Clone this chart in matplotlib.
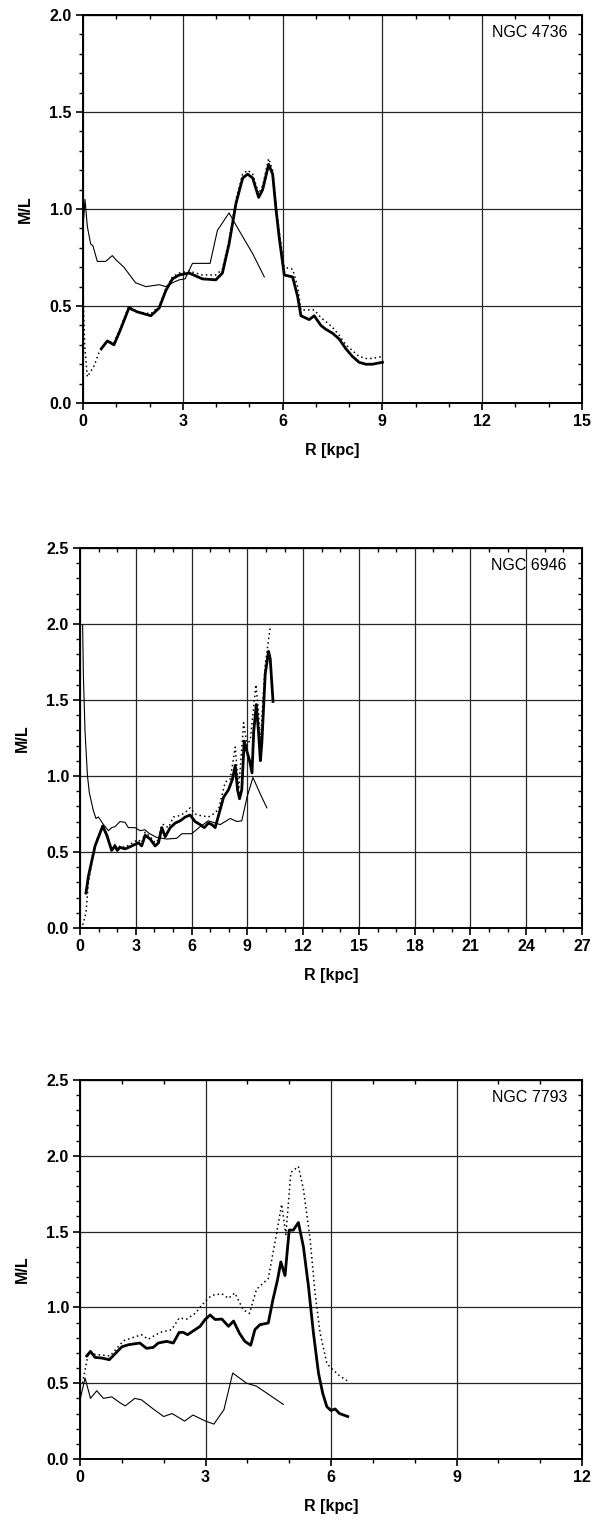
import numpy as np
import matplotlib
matplotlib.use("Agg")
import matplotlib.pyplot as plt
from matplotlib.ticker import MultipleLocator, FormatStrFormatter

plt.rcParams['font.family'] = ['Liberation Sans', 'DejaVu Sans']

# ---- NGC 4736 ----
n4736_thick_r = [0.55, 0.73, 0.93, 1.13, 1.38, 1.63, 2.04, 2.29, 2.49, 2.69, 2.89, 3.19, 3.59,
                 3.99, 4.19, 4.39, 4.6, 4.8, 4.95, 5.1, 5.28, 5.4, 5.58, 5.7, 5.8, 5.9, 6.05,
                 6.3, 6.45, 6.55, 6.8, 6.95, 7.15, 7.3, 7.5, 7.7, 7.9, 8.1, 8.3, 8.5, 8.7, 9.0]
n4736_thick_ml = [0.28, 0.32, 0.30, 0.38, 0.49, 0.47, 0.45, 0.49, 0.58, 0.64, 0.66, 0.67, 0.64,
                  0.635, 0.67, 0.82, 1.03, 1.16, 1.18, 1.16, 1.06, 1.10, 1.23, 1.18, 1.0, 0.85, 0.66,
                  0.65, 0.55, 0.45, 0.43, 0.45, 0.40, 0.38, 0.36, 0.33, 0.28, 0.24, 0.21, 0.20, 0.20, 0.21]
n4736_dot_r = [0.0, 0.05, 0.13, 0.33, 0.48, 0.73, 0.93, 1.13, 1.38, 1.63, 2.04, 2.29, 2.49, 2.69,
               2.89, 3.19, 3.59, 3.99, 4.19, 4.39, 4.6, 4.8, 4.95, 5.1, 5.28, 5.4, 5.58, 5.7, 5.8,
               5.9, 6.05, 6.3, 6.45, 6.55, 6.8, 6.95, 7.15, 7.3, 7.5, 7.7, 7.9, 8.1, 8.3, 8.5, 8.7, 9.0]
n4736_dot_ml = [0.57, 0.30, 0.135, 0.19, 0.26, 0.32, 0.31, 0.39, 0.50, 0.47, 0.46, 0.50, 0.59, 0.65,
                0.67, 0.68, 0.66, 0.66, 0.69, 0.84, 1.05, 1.18, 1.20, 1.18, 1.08, 1.12, 1.26, 1.20, 1.03,
                0.88, 0.70, 0.69, 0.60, 0.48, 0.48, 0.48, 0.44, 0.42, 0.39, 0.35, 0.30, 0.27, 0.24, 0.23, 0.23, 0.24]
n4736_thin_r = [0.02, 0.06, 0.13, 0.23, 0.3, 0.43, 0.68, 0.88, 0.98, 1.23, 1.58, 1.89, 2.29, 2.49,
                2.69, 2.89, 3.07, 3.29, 3.49, 3.82, 4.04, 4.39, 4.69, 5.1, 5.45]
n4736_thin_ml = [0.95, 1.05, 0.91, 0.82, 0.81, 0.73, 0.73, 0.76, 0.74, 0.70, 0.62, 0.60, 0.61, 0.60,
                 0.62, 0.635, 0.64, 0.72, 0.72, 0.72, 0.89, 0.98, 0.89, 0.77, 0.65]

# ---- NGC 6946 ----
n6946_thick_r = [0.32, 0.45, 0.81, 1.22, 1.44, 1.7, 1.88, 2.0, 2.15, 2.42, 2.69, 2.96, 3.14, 3.32,
                 3.5, 3.77, 4.04, 4.22, 4.4, 4.58, 4.85, 5.12, 5.39, 5.66, 5.92, 6.19, 6.46, 6.68,
                 6.91, 7.09, 7.27, 7.45, 7.72, 7.99, 8.2, 8.35, 8.47, 8.58, 8.7, 8.83, 8.98, 9.12,
                 9.25, 9.34, 9.48, 9.6, 9.7, 9.78, 9.96, 10.14, 10.23, 10.38]
n6946_thick_ml = [0.23, 0.34, 0.54, 0.67, 0.61, 0.51, 0.54, 0.51, 0.53, 0.52, 0.534, 0.55, 0.56, 0.54,
                  0.61, 0.585, 0.54, 0.56, 0.66, 0.60, 0.66, 0.69, 0.705, 0.73, 0.743, 0.70, 0.68, 0.66,
                  0.69, 0.68, 0.66, 0.74, 0.86, 0.91, 0.98, 1.07, 0.91, 0.85, 0.91, 1.23, 1.16, 1.10,
                  1.02, 1.29, 1.47, 1.29, 1.10, 1.22, 1.67, 1.82, 1.77, 1.49]
n6946_dot_r = [0.15, 0.32, 0.45, 0.81, 1.22, 1.44, 1.7, 1.88, 2.0, 2.15, 2.42, 2.69, 2.96, 3.14, 3.32,
               3.5, 3.77, 4.04, 4.22, 4.4, 4.5, 4.75, 5.03, 5.39, 5.66, 5.92, 6.19, 6.46, 6.9, 7.18,
               7.45, 7.81, 8.08, 8.35, 8.53, 8.8, 8.98, 9.16, 9.46, 9.6, 9.7, 9.96, 10.23]
n6946_dot_ml = [0.02, 0.10, 0.30, 0.55, 0.68, 0.62, 0.52, 0.55, 0.52, 0.54, 0.53, 0.55, 0.57, 0.58, 0.56,
                0.63, 0.60, 0.56, 0.58, 0.68, 0.68, 0.66, 0.73, 0.74, 0.76, 0.79, 0.75, 0.74, 0.73, 0.75,
                0.78, 0.96, 0.98, 1.19, 0.91, 1.35, 1.20, 1.24, 1.60, 1.42, 1.22, 1.73, 1.98]
n6946_thin_r = [0.14, 0.18, 0.27, 0.4, 0.5, 0.72, 0.86, 0.99, 1.26, 1.53, 1.7, 1.88, 2.15, 2.42, 2.6,
                2.96, 3.23, 3.5, 3.68, 4.13, 4.67, 5.2, 5.48, 6.0, 6.46, 6.9, 7.54, 8.08, 8.44, 8.7,
                8.98, 9.3, 9.7, 10.05]
n6946_thin_ml = [1.99, 1.66, 1.29, 1.0, 0.89, 0.77, 0.72, 0.73, 0.68, 0.64, 0.66, 0.666, 0.70, 0.695, 0.66,
                 0.66, 0.64, 0.646, 0.625, 0.595, 0.585, 0.59, 0.62, 0.62, 0.666, 0.705, 0.68, 0.72, 0.70, 0.705,
                 0.86, 0.99, 0.88, 0.79]

# ---- NGC 7793 ----
n7793_thick_r = [0.16, 0.25, 0.36, 0.52, 0.7, 0.84, 1.0, 1.16, 1.43, 1.59, 1.75, 1.87, 2.07, 2.23, 2.37,
                 2.47, 2.57, 2.75, 2.87, 2.99, 3.11, 3.23, 3.39, 3.55, 3.67, 3.81, 3.94, 4.08, 4.18,
                 4.3, 4.5, 4.61, 4.72, 4.8, 4.9, 5.0, 5.1, 5.22, 5.34, 5.46, 5.58, 5.7, 5.8, 5.9, 6.0,
                 6.1, 6.2, 6.3, 6.4]
n7793_thick_ml = [0.68, 0.71, 0.67, 0.666, 0.655, 0.695, 0.74, 0.754, 0.765, 0.73, 0.736, 0.765, 0.776, 0.765, 0.835,
                  0.835, 0.82, 0.853, 0.875, 0.92, 0.95, 0.92, 0.923, 0.875, 0.91, 0.83, 0.776, 0.75, 0.853,
                  0.886, 0.897, 1.05, 1.18, 1.30, 1.21, 1.51, 1.51, 1.56, 1.40, 1.14, 0.83, 0.567, 0.435, 0.345, 0.32,
                  0.33, 0.30, 0.29, 0.28]
n7793_dot_r = [0.06, 0.2, 0.36, 0.72, 1.04, 1.47, 1.63, 1.91, 2.19, 2.37, 2.55, 2.75, 2.99, 3.15, 3.39,
               3.55, 3.7, 3.9, 4.05, 4.22, 4.5, 4.7, 4.82, 4.92, 5.04, 5.22, 5.34, 5.5, 5.62, 5.74,
               5.9, 6.0, 6.2, 6.42]
n7793_dot_ml = [0.50, 0.70, 0.69, 0.68, 0.78, 0.82, 0.79, 0.835, 0.853, 0.93, 0.923, 0.96, 1.04, 1.08, 1.09,
                1.06, 1.095, 0.985, 0.96, 1.12, 1.19, 1.49, 1.68, 1.48, 1.89, 1.93, 1.78, 1.45, 1.09, 0.83,
                0.63, 0.60, 0.55, 0.51]
n7793_thin_r = [0.0, 0.12, 0.25, 0.4, 0.56, 0.76, 0.96, 1.08, 1.31, 1.47, 1.75, 2.0, 2.2, 2.5, 2.7,
                3.0, 3.2, 3.44, 3.65, 3.98, 4.22, 4.54, 4.86]
n7793_thin_ml = [0.39, 0.534, 0.40, 0.45, 0.40, 0.41, 0.37, 0.35, 0.40, 0.39, 0.33, 0.28, 0.30, 0.25, 0.29,
                 0.25, 0.23, 0.325, 0.567, 0.50, 0.48, 0.42, 0.36]

panels = [
    dict(name='NGC 4736', xmax=15, ymax=2.0,
         thick=(n4736_thick_r, n4736_thick_ml), dot=(n4736_dot_r, n4736_dot_ml),
         thin=(n4736_thin_r, n4736_thin_ml), pos=[0.1395, 0.7352, 0.8387, 0.2549]),
    dict(name='NGC 6946', xmax=27, ymax=2.5,
         thick=(n6946_thick_r, n6946_thick_ml), dot=(n6946_dot_r, n6946_dot_ml),
         thin=(n6946_thin_r, n6946_thin_ml), pos=[0.1345, 0.3903, 0.8437, 0.2497]),
    dict(name='NGC 7793', xmax=12, ymax=2.5,
         thick=(n7793_thick_r, n7793_thick_ml), dot=(n7793_dot_r, n7793_dot_ml),
         thin=(n7793_thin_r, n7793_thin_ml), pos=[0.1345, 0.0414, 0.8437, 0.2490]),
]

fig = plt.figure(figsize=(5.95, 15.22), dpi=100)

for p in panels:
    ax = fig.add_axes(p['pos'])
    ax.plot(*p['thin'], color='black', lw=0.8, zorder=3)
    ax.plot(*p['dot'], color='black', lw=1.1, ls=(0, (1, 2)), zorder=3)
    ax.plot(*p['thick'], color='black', lw=2.0, zorder=4)

    ax.set_xlim(0, p['xmax'])
    ax.set_ylim(0, p['ymax'])
    ax.xaxis.set_major_locator(MultipleLocator(3))
    ax.xaxis.set_minor_locator(MultipleLocator(1))
    ax.yaxis.set_major_locator(MultipleLocator(0.5))
    ax.yaxis.set_minor_locator(MultipleLocator(0.1))
    ax.yaxis.set_major_formatter(FormatStrFormatter('%.1f'))
    ax.grid(True, which='major', color='0.15', lw=0.9)
    ax.set_axisbelow(True)
    for s in ax.spines.values():
        s.set_linewidth(1.4)

    ax.tick_params(which='major', direction='out', length=5, width=1.2,
                   labelsize=11.5, pad=3)
    ax.tick_params(which='minor', direction='out', length=3, width=1.0)
    for lab in ax.get_xticklabels() + ax.get_yticklabels():
        lab.set_fontweight('bold')

    # mirrored ticks on top / right, pointing inward
    top = ax.secondary_xaxis('top')
    top.xaxis.set_major_locator(MultipleLocator(3))
    top.xaxis.set_minor_locator(MultipleLocator(1))
    top.tick_params(which='both', direction='in', labeltop=False, width=1.0)
    top.tick_params(which='major', length=0)
    top.tick_params(which='minor', length=3)
    right = ax.secondary_yaxis('right')
    right.yaxis.set_major_locator(MultipleLocator(0.5))
    right.yaxis.set_minor_locator(MultipleLocator(0.1))
    right.tick_params(which='both', direction='in', labelright=False, width=1.0)
    right.tick_params(which='major', length=0)
    right.tick_params(which='minor', length=3)

    ax.set_xlabel('R [kpc]', fontsize=11.5, fontweight='bold', labelpad=10)
    ax.set_ylabel('M/L', fontsize=11.5, fontweight='bold', labelpad=12)
    ax.text(0.97, 0.955, p['name'], transform=ax.transAxes, ha='right', va='center',
            fontsize=11.5, zorder=5)

fig.savefig('out.png', dpi=100)
